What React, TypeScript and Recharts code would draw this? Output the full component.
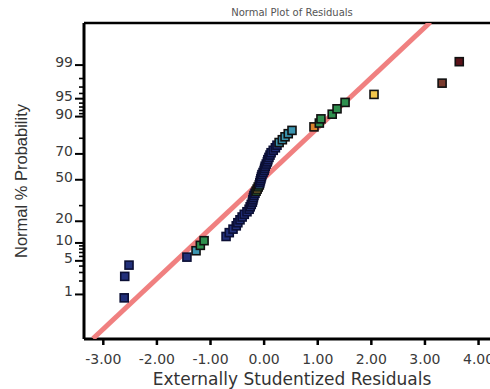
import { ScatterChart, Scatter, XAxis, YAxis } from "recharts";

// sorted externally studentized residuals (x) and their normal % probability (y)
const residuals = [
  -2.61, -2.6, -2.52, -1.44, -1.27, -1.19, -1.12, -0.71, -0.65, -0.58,
  -0.52, -0.49, -0.45, -0.41, -0.37, -0.32, -0.28, -0.26, -0.24, -0.22,
  -0.21, -0.2, -0.19, -0.17, -0.15, -0.13, -0.11, -0.09, -0.08, -0.07,
  -0.06, -0.05, -0.04, -0.02, 0.0, 0.01, 0.02, 0.04, 0.06, 0.07,
  0.09, 0.11, 0.13, 0.17, 0.21, 0.24, 0.28, 0.34, 0.39, 0.45,
  0.52, 0.93, 1.03, 1.06, 1.27, 1.36, 1.51, 2.05, 3.32, 3.64,
];
const probabilities = [
  0.83, 2.5, 4.17, 5.83, 7.5, 9.17, 10.83, 12.5, 14.17, 15.83,
  17.5, 19.17, 20.83, 22.5, 24.17, 25.83, 27.5, 29.17, 30.83, 32.5,
  34.17, 35.83, 37.5, 39.17, 40.83, 42.5, 44.17, 45.83, 47.5, 49.17,
  50.83, 52.5, 54.17, 55.83, 57.5, 59.17, 60.83, 62.5, 64.17, 65.83,
  67.5, 69.17, 70.83, 72.5, 74.17, 75.83, 77.5, 79.17, 80.83, 82.5,
  84.17, 85.83, 87.5, 89.17, 90.83, 92.5, 94.17, 95.83, 97.5, 99.17,
];
// response level bin of each run (drives the marker colour)
const levels = [
  0, 0, 0, 0, 1, 2, 2, 0, 0, 0,
  0, 0, 0, 0, 0, 0, 0, 0, 0, 0,
  0, 0, 0, 0, 2, 3, 2, 1, 0, 0,
  0, 0, 0, 0, 0, 0, 0, 0, 0, 0,
  0, 0, 0, 0, 0, 0, 1, 1, 1, 1,
  1, 4, 2, 2, 2, 2, 2, 3, 5, 6,
];

const fitResiduals = [-3.19, 3.1];
const fitProbabilities = [0.064, 99.93];

const xTicks = [-3, -2, -1, 0, 1, 2, 3, 4];
const yMajorTicks = [1, 5, 10, 20, 50, 70, 90, 95, 99];
const yMinorTicks = [2, 3, 4, 6, 7, 8, 9, 30, 80, 91, 92, 93, 94, 96, 97, 98];

const palette = [
  { fill: "#22307a", stroke: "#0b0f35" },
  { fill: "#3b95b0", stroke: "#111" },
  { fill: "#2f8f4e", stroke: "#111" },
  { fill: "#f2c64c", stroke: "#111" },
  { fill: "#d9822b", stroke: "#111" },
  { fill: "#7a3b2e", stroke: "#111" },
  { fill: "#5a1218", stroke: "#111" },
];

// inverse normal cdf (Acklam) -> probability axis
function probit(p: number) {
  const a = [-39.69683028665376, 220.9460984245205, -275.9285104469687, 138.357751867269, -30.66479806614716, 2.506628277459239];
  const b = [-54.47609879822406, 161.5858368580409, -155.6989798598866, 66.80131188771972, -13.28068155288572];
  const c = [-0.007784894002430293, -0.3223964580411365, -2.400758277161838, -2.549732539343734, 4.374664141464968, 2.938163982698783];
  const d = [0.007784695709041462, 0.3224671290700398, 2.445134137142996, 3.754408661907416];
  const lo = 0.02425;
  if (p < lo) {
    const q = Math.sqrt(-2 * Math.log(p));
    return (((((c[0] * q + c[1]) * q + c[2]) * q + c[3]) * q + c[4]) * q + c[5]) / ((((d[0] * q + d[1]) * q + d[2]) * q + d[3]) * q + 1);
  }
  if (p <= 1 - lo) {
    const q = p - 0.5;
    const r = q * q;
    return ((((((a[0] * r + a[1]) * r + a[2]) * r + a[3]) * r + a[4]) * r + a[5]) * q) / (((((b[0] * r + b[1]) * r + b[2]) * r + b[3]) * r + b[4]) * r + 1);
  }
  const q = Math.sqrt(-2 * Math.log(1 - p));
  return -(((((c[0] * q + c[1]) * q + c[2]) * q + c[3]) * q + c[4]) * q + c[5]) / ((((d[0] * q + d[1]) * q + d[2]) * q + d[3]) * q + 1);
}

const points = residuals.map((r, i) => ({ x: r, z: probit(probabilities[i] / 100), level: levels[i] }));
const fitLine = fitResiduals.map((r, i) => ({ x: r, z: probit(fitProbabilities[i] / 100) }));

const yTickList = [
  ...yMajorTicks.map((p) => ({ p, major: true, z: probit(p / 100) })),
  ...yMinorTicks.map((p) => ({ p, major: false, z: probit(p / 100) })),
];

const xDomain = [-3.36, 4.4];
const yDomain = [-3.23, 3.18];
const font = "'DejaVu Sans', Verdana, sans-serif";

const Marker = (props: any) => {
  const { cx, cy, payload } = props;
  const c = palette[payload.level];
  return <rect x={cx - 4} y={cy - 4} width={8} height={8} fill={c.fill} stroke={c.stroke} strokeWidth={1.6} />;
};

const NoShape = () => <g />;

const ProbTick = (props: any) => {
  const { x, y, payload } = props;
  const t = yTickList.find((tk) => Math.abs(tk.z - payload.value) < 1e-6);
  if (!t) return <g />;
  return (
    <g>
      <line x1={x - (t.major ? 9 : 5)} x2={x} y1={y} y2={y} stroke="#000" strokeWidth={t.major ? 2 : 1.6} />
      {t.major && (
        <text x={x - 11} y={y} dy={2} textAnchor="end" fill="#3a3a3a" fontSize={14} fontFamily={font}>
          {t.p}
        </text>
      )}
    </g>
  );
};

export default function App() {
  return (
    <div style={{ position: "absolute", left: 0, top: 0, width: 490, height: 389, overflow: "hidden", background: "#fff" }}>
      <ScatterChart width={530} height={389} margin={{ top: 0, right: 30, bottom: 0, left: 0 }}>
        <XAxis
          xAxisId="top"
          orientation="top"
          type="number"
          domain={xDomain}
          allowDataOverflow
          ticks={[]}
          tick={false}
          tickLine={false}
          height={23}
          axisLine={{ stroke: "#000", strokeWidth: 2.5 }}
          label={{ value: "Normal Plot of Residuals", position: "insideTop", offset: 9, fill: "#555", fontSize: 10, fontFamily: font }}
        />
        <XAxis
          dataKey="x"
          type="number"
          domain={xDomain}
          allowDataOverflow
          ticks={xTicks}
          interval={0}
          tickFormatter={(v: number) => v.toFixed(2)}
          tick={{ fill: "#3a3a3a", fontSize: 14, fontFamily: font }}
          tickLine={{ stroke: "#000", strokeWidth: 2.5 }}
          tickSize={6}
          tickMargin={9}
          height={50}
          axisLine={{ stroke: "#000", strokeWidth: 3 }}
          label={{ value: "Externally Studentized Residuals", position: "insideBottom", offset: 4, fill: "#333", fontSize: 17, fontFamily: font }}
        />
        <YAxis
          dataKey="z"
          type="number"
          domain={yDomain}
          allowDataOverflow
          ticks={yTickList.map((t) => t.z)}
          interval={0}
          tick={<ProbTick />}
          tickLine={false}
          tickSize={0}
          tickMargin={0}
          width={84}
          axisLine={{ stroke: "#000", strokeWidth: 3 }}
          label={{
            value: "Normal % Probability",
            angle: -90,
            position: "insideLeft",
            offset: 21,
            fill: "#333",
            fontSize: 16.5,
            fontFamily: "'Liberation Sans', Arial, sans-serif",
            style: { textAnchor: "middle" },
          }}
        />
        <Scatter data={fitLine} line={{ stroke: "#f08080", strokeWidth: 5 }} shape={NoShape} isAnimationActive={false} />
        <Scatter data={points} shape={Marker} isAnimationActive={false} />
      </ScatterChart>
    </div>
  );
}
